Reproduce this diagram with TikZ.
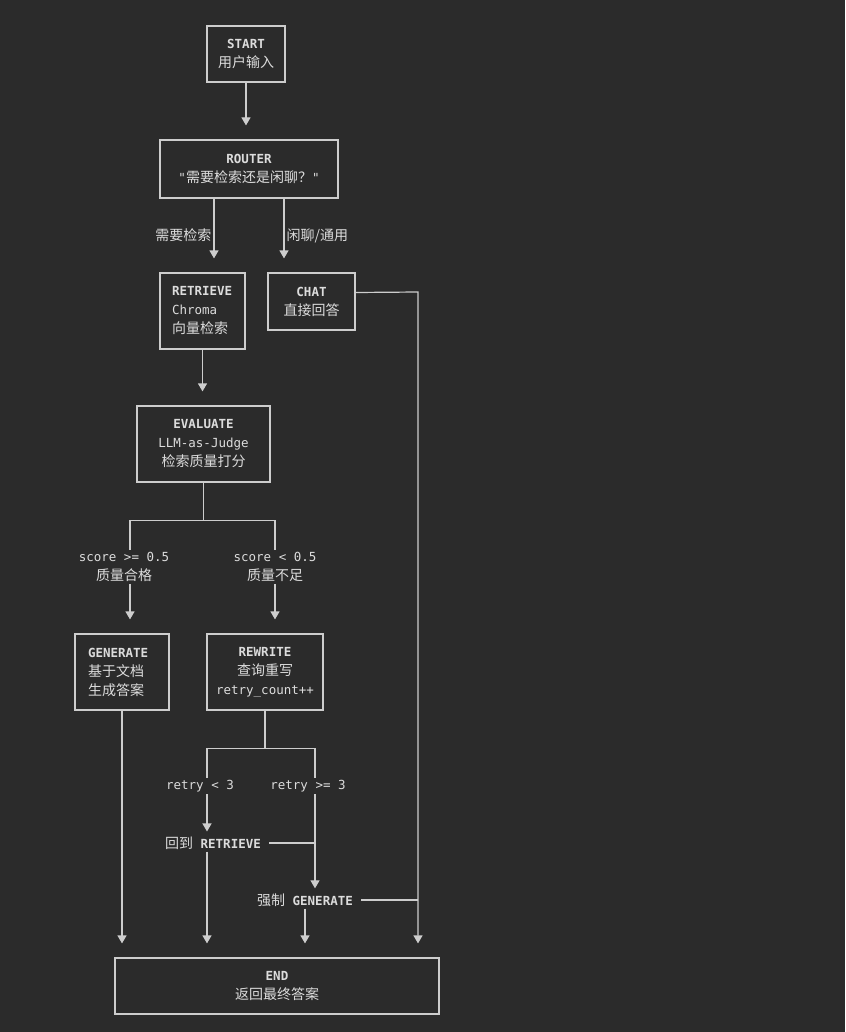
\documentclass[tikz,border=0pt]{standalone}
\usepackage{fontspec}
\setmonofont{DejaVu Sans Mono}
\newfontfamily\cjk{Noto Sans CJK SC}
\usepackage{xcolor}
\usetikzlibrary{arrows.meta, positioning}
\definecolor{bgdark}{RGB}{43,43,43}
\definecolor{linegray}{RGB}{205,205,205}
\definecolor{inkgray}{RGB}{220,220,220}
\newcommand{\zh}[1]{{\cjk\fontsize{14}{19}\selectfont #1}}

\begin{document}
\begin{tikzpicture}[
          x=1pt, y=-1pt,
          box/.style={
            rectangle, draw=linegray, line width=1.2pt,
            align=center, inner sep=0pt,
            font=\ttfamily\fontsize{12.5}{19}\selectfont, text=inkgray
          },
          tag/.style={
            align=center, inner sep=2pt,
            font=\ttfamily\fontsize{12.5}{19}\selectfont, text=inkgray
          },
          arrow/.style={
            -{Triangle[width=9pt,length=8pt]}, line width=1.2pt,
            color=linegray, shorten >=14pt
          },
          link/.style={line width=1.2pt, color=linegray}
        ]
          \fill[bgdark] (0,0) rectangle (845,1032);
          \useasboundingbox (0,0) rectangle (845,1032);

          \node[box, minimum width=78, minimum height=56]  (start)  at (246,54)
                {\textbf{START}\\\zh{用户输入}};
          \node[box, minimum width=178, minimum height=58] (router) at (249,169)
                {\textbf{ROUTER}\\"\zh{需要检索还是闲聊？}"};
          \node[box, text width=61, inner xsep=12, minimum height=76, align=left] (retrieve) at (202.5,311)
                {\textbf{RETRIEVE}\\Chroma\\\zh{向量检索}};
          \node[box, minimum width=87, minimum height=57]  (chat)   at (311.5,301.5)
                {\textbf{CHAT}\\\zh{直接回答}};
          \node[box, minimum width=133, minimum height=76] (evaluate) at (203.5,444)
                {\textbf{EVALUATE}\\LLM-as-Judge\\\zh{检索质量打分}};
          \node[box, text width=68, inner xsep=13, minimum height=76, align=left] (generate) at (122,672)
                {\textbf{GENERATE}\\\zh{基于文档}\\\zh{生成答案}};
          \node[box, minimum width=116, minimum height=76] (rewrite) at (265,672)
                {\textbf{REWRITE}\\\zh{查询重写}\\retry\_count++};
          \node[box, minimum width=324, minimum height=56] (end)    at (277,986)
                {\textbf{END}\\\zh{返回最终答案}};

          \node[tag] (pass)  at (124,567) {score >= 0.5\\\zh{质量合格}};
          \node[tag] (fail)  at (275,567) {score < 0.5\\\zh{质量不足}};
          \node[tag] (lt3)   at (200,786) {retry < 3};
          \node[tag] (ge3)   at (308,786) {retry >= 3};
          \node[tag] (back)  at (213,843) {\zh{回到} \textbf{RETRIEVE}};
          \node[tag] (force) at (305,900) {\zh{强制} \textbf{GENERATE}};

          \coordinate (fork1) at ([yshift=-38pt]evaluate.south);
          \coordinate (fork2) at ([yshift=-38pt]rewrite.south);
          \coordinate (bend)  at (418,292);
          \coordinate (passcol) at ([xshift=6pt]pass.south);
          \coordinate (lowcol)  at ([xshift=7pt]lt3.south);
          \coordinate (highcol) at ([xshift=7pt]ge3.south);

          \draw[arrow] (start.south) -- (start.south |- router.north);
          \draw[arrow] ([xshift=-35pt]router.south) -- node[tag, left, pos=0.5] (needlbl) {\zh{需要检索}}
                       ([xshift=-35pt]router.south |- retrieve.north);
          \draw[arrow] ([xshift=35pt]router.south) -- node[tag, right, pos=0.5] (chatlbl) {\zh{闲聊/通用}}
                       ([xshift=35pt]router.south |- chat.north);
          \draw[arrow] ([yshift=9pt]chat.east) -- (bend) -- (bend |- end.north);
          \draw[arrow] (retrieve.south) -- (retrieve.south |- evaluate.north);

          \draw[link]  (evaluate.south) -- (fork1);
          \draw[link]  (pass.north -| passcol) |- (fork1) -| (fail.north);
          \draw[arrow] (passcol) -- (passcol |- generate.north);
          \draw[arrow] (fail.south) -- (fail.south |- rewrite.north);
          \draw[arrow] (generate.south) -- (generate.south |- end.north);

          \draw[link]  (rewrite.south) -- (fork2);
          \draw[link]  (lt3.north -| lowcol) |- (fork2) -| (ge3.north -| highcol);
          \draw[arrow, shorten >=3pt] (lowcol) -- (lowcol |- back.north);
          \draw[arrow] (back.south -| lowcol) -- (lowcol |- end.north);
          \draw[link, shorten <=6pt]  (back.east) -- (back.east -| highcol);
          \draw[arrow, shorten >=3pt] (highcol) -- (highcol |- force.north);
          \draw[arrow] (force.south) -- (force.south |- end.north);
          \draw[link, shorten <=6pt]  (force.east) -- (force.east -| bend);
        \end{tikzpicture}
\end{document}
